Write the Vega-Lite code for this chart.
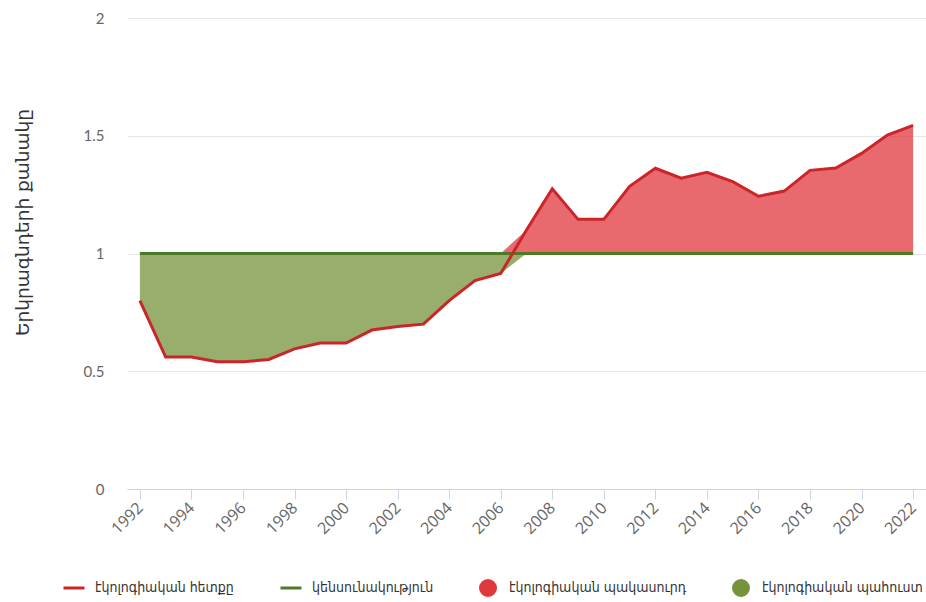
{
  "$schema": "https://vega.github.io/schema/vega-lite/v6.json",
  "width": 799,
  "height": 471,
  "autosize": "none",
  "padding": {"left": 127, "top": 18, "right": 0, "bottom": 113},
  "background": "white",
  "config": {"view": {"stroke": null}, "font": "Open Sans"},
  "data": {"values": [
    {"year": 1992, "fp": 0.80, "bio": 1.0, "reserve": 0.80, "deficit": null},
    {"year": 1993, "fp": 0.56, "bio": 1.0, "reserve": 0.56, "deficit": null},
    {"year": 1994, "fp": 0.56, "bio": 1.0, "reserve": 0.56, "deficit": null},
    {"year": 1995, "fp": 0.54, "bio": 1.0, "reserve": 0.54, "deficit": null},
    {"year": 1996, "fp": 0.54, "bio": 1.0, "reserve": 0.54, "deficit": null},
    {"year": 1997, "fp": 0.55, "bio": 1.0, "reserve": 0.55, "deficit": null},
    {"year": 1998, "fp": 0.595, "bio": 1.0, "reserve": 0.595, "deficit": null},
    {"year": 1999, "fp": 0.62, "bio": 1.0, "reserve": 0.62, "deficit": null},
    {"year": 2000, "fp": 0.62, "bio": 1.0, "reserve": 0.62, "deficit": null},
    {"year": 2001, "fp": 0.675, "bio": 1.0, "reserve": 0.675, "deficit": null},
    {"year": 2002, "fp": 0.69, "bio": 1.0, "reserve": 0.69, "deficit": null},
    {"year": 2003, "fp": 0.70, "bio": 1.0, "reserve": 0.70, "deficit": null},
    {"year": 2004, "fp": 0.80, "bio": 1.0, "reserve": 0.80, "deficit": null},
    {"year": 2005, "fp": 0.885, "bio": 1.0, "reserve": 0.885, "deficit": null},
    {"year": 2006, "fp": 0.915, "bio": 1.0, "reserve": 0.915, "deficit": 1.0},
    {"year": 2007, "fp": 1.10, "bio": 1.0, "reserve": 1.0, "deficit": 1.10},
    {"year": 2008, "fp": 1.275, "bio": 1.0, "reserve": null, "deficit": 1.275},
    {"year": 2009, "fp": 1.145, "bio": 1.0, "reserve": null, "deficit": 1.145},
    {"year": 2010, "fp": 1.145, "bio": 1.0, "reserve": null, "deficit": 1.145},
    {"year": 2011, "fp": 1.285, "bio": 1.0, "reserve": null, "deficit": 1.285},
    {"year": 2012, "fp": 1.362, "bio": 1.0, "reserve": null, "deficit": 1.362},
    {"year": 2013, "fp": 1.32, "bio": 1.0, "reserve": null, "deficit": 1.32},
    {"year": 2014, "fp": 1.345, "bio": 1.0, "reserve": null, "deficit": 1.345},
    {"year": 2015, "fp": 1.305, "bio": 1.0, "reserve": null, "deficit": 1.305},
    {"year": 2016, "fp": 1.243, "bio": 1.0, "reserve": null, "deficit": 1.243},
    {"year": 2017, "fp": 1.265, "bio": 1.0, "reserve": null, "deficit": 1.265},
    {"year": 2018, "fp": 1.353, "bio": 1.0, "reserve": null, "deficit": 1.353},
    {"year": 2019, "fp": 1.363, "bio": 1.0, "reserve": null, "deficit": 1.363},
    {"year": 2020, "fp": 1.425, "bio": 1.0, "reserve": null, "deficit": 1.425},
    {"year": 2021, "fp": 1.503, "bio": 1.0, "reserve": null, "deficit": 1.503},
    {"year": 2022, "fp": 1.544, "bio": 1.0, "reserve": null, "deficit": 1.544}
  ]},
  "encoding": {
    "x": {
      "field": "year", "type": "quantitative",
      "scale": {"domain": [1991.5, 2022.5], "nice": false, "zero": false},
      "axis": {
        "title": null,
        "values": [1992, 1994, 1996, 1998, 2000, 2002, 2004, 2006, 2008, 2010, 2012, 2014, 2016, 2018, 2020, 2022],
        "format": "d",
        "labelAngle": -45,
        "labelAlign": "right",
        "labelBaseline": "middle",
        "labelFontSize": 16,
        "labelColor": "#666666",
        "labelFont": "Open Sans",
        "labelPadding": 6,
        "labelFlush": false,
        "labelOverlap": false,
        "tickSize": 10,
        "tickColor": "#ccd6eb",
        "domainColor": "#ccd6eb",
        "domainWidth": 1,
        "grid": false
      }
    }
  },
  "layer": [
    {
      "transform": [{"filter": "datum.reserve != null"}],
      "mark": {"type": "area", "fillOpacity": 0.75, "interpolate": "linear"},
      "encoding": {
        "y": {
          "field": "reserve", "type": "quantitative",
          "scale": {"domain": [0, 2], "nice": false},
          "axis": {
            "title": "Երկրագնդերի քանակը",
            "titleFontSize": 18.5,
            "titleFont": "DejaVu Sans",
            "titleFontWeight": "normal",
            "titleColor": "#333333",
            "titleX": -105,
            "titleY": 204,
            "titleAngle": -90,
            "titleAlign": "center",
            "titleBaseline": "middle",
            "values": [0, 0.5, 1, 1.5, 2],
            "format": "~g",
            "labelFontSize": 15,
            "labelColor": "#666666",
            "labelFont": "Lato",
            "labelPadding": 23,
            "domain": false,
            "ticks": false,
            "gridColor": "#e6e6e6",
            "gridWidth": 1
          }
        },
        "y2": {"field": "bio"},
        "color": {
          "datum": "էկոլոգիական պահուստ",
          "scale": {
            "domain": ["էկոլոգիական հետքը", "կենսունակություն", "էկոլոգիական պակասուրդ", "էկոլոգիական պահուստ"],
            "range": ["#cc2529", "#4e7a27", "#e0383d", "#76933c"]
          },
          "legend": {
            "title": null,
            "orient": "none",
            "direction": "horizontal",
            "gridAlign": "none",
            "legendX": -62,
            "legendY": 561,
            "labelFont": "DejaVu Sans Condensed",
            "labelFontSize": 14,
            "labelColor": "#333333",
            "labelLimit": 400,
            "labelOffset": 12,
            "columnPadding": 40,
            "symbolSize": 225,
            "symbolOpacity": 1,
            "symbolStrokeWidth": 3,
            "encode": {
              "symbols": {
                "update": {
                  "shape": {"signal": "indexof(['էկոլոգիական պակասուրդ','էկոլոգիական պահուստ'], datum.value) >= 0 ? 'circle' : 'M-1.4,0H1.4'"},
                  "fill": {"signal": "indexof(['էկոլոգիական պակասուրդ','էկոլոգիական պահուստ'], datum.value) >= 0 ? scale('color', datum.value) : 'transparent'"},
                  "stroke": {"signal": "indexof(['էկոլոգիական պակասուրդ','էկոլոգիական պահուստ'], datum.value) >= 0 ? 'transparent' : scale('color', datum.value)"},
                  "strokeWidth": {"value": 3},
                  "opacity": {"value": 1},
                  "fillOpacity": {"value": 1},
                  "strokeOpacity": {"value": 1}
                }
              }
            }
          }
        }
      }
    },
    {
      "transform": [{"filter": "datum.deficit != null"}],
      "mark": {"type": "area", "fillOpacity": 0.75, "interpolate": "linear"},
      "encoding": {
        "y": {"field": "deficit", "type": "quantitative"},
        "y2": {"field": "bio"},
        "color": {"datum": "էկոլոգիական պակասուրդ"}
      }
    },
    {
      "mark": {"type": "line", "strokeWidth": 3},
      "encoding": {
        "y": {"field": "bio", "type": "quantitative"},
        "color": {"datum": "կենսունակություն"}
      }
    },
    {
      "mark": {"type": "line", "strokeWidth": 3},
      "encoding": {
        "y": {"field": "fp", "type": "quantitative"},
        "color": {"datum": "էկոլոգիական հետքը"}
      }
    }
  ]
}
